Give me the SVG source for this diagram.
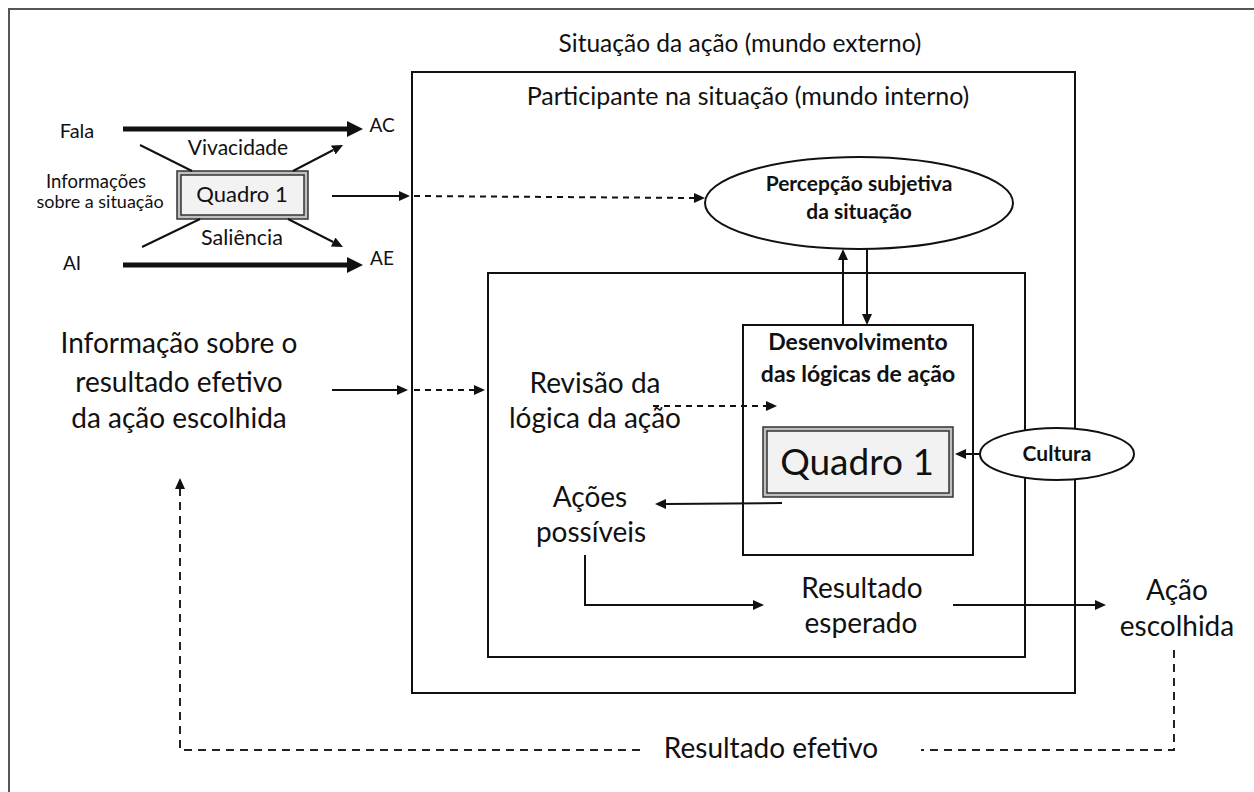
<svg xmlns="http://www.w3.org/2000/svg" width="1254" height="792" viewBox="0 0 1254 792">
<style>
text{font-family:"Lato","Open Sans","DejaVu Sans",sans-serif;fill:#111;text-anchor:middle}
.b{font-weight:bold}
.box{fill:none;stroke:#111;stroke-width:2}
.ln{fill:none;stroke:#111;stroke-width:2}
.thick{fill:none;stroke:#111;stroke-width:5}
.dash{fill:none;stroke:#111;stroke-width:2;stroke-dasharray:6 5}
.dash2{fill:none;stroke:#222;stroke-width:2;stroke-dasharray:8 6}
.qo{fill:#bfbfbf;stroke:#333;stroke-width:1.5}
.qi{fill:#f2f2f2;stroke:#333;stroke-width:1.5}
.big{font-size:28px}
</style>
<defs>
<marker id="ah" markerUnits="userSpaceOnUse" markerWidth="11" markerHeight="10" refX="0" refY="5" orient="auto"><path d="M0,0 L11,5 L0,10 z" fill="#111"/></marker>
<marker id="ahT" markerUnits="userSpaceOnUse" markerWidth="16" markerHeight="16" refX="0" refY="8" orient="auto"><path d="M0,0 L16,8 L0,16 z" fill="#111"/></marker>
</defs>
<rect x="9" y="9" width="1300" height="850" fill="#fff" stroke="#555" stroke-width="2"/>

<g id="external">
<text x="740" y="52" font-size="24.5">Situação da ação (mundo externo)</text>
<rect class="box" x="412" y="72" width="663" height="621"/>
</g>
<g id="internal">
<text x="748" y="105" font-size="25">Participante na situação (mundo interno)</text>
<rect class="box" x="488" y="273" width="537" height="384"/>
</g>

<g id="left-inputs">
<text x="77" y="138" font-size="20">Fala</text>
<text x="382" y="132" font-size="19">AC</text>
<text x="238" y="155" font-size="21">Vivacidade</text>
<text x="96" y="188" font-size="18.5">Informações</text>
<text x="100" y="208" font-size="18">sobre a situação</text>
<text x="242" y="245" font-size="21.5">Saliência</text>
<text x="72" y="270" font-size="19">AI</text>
<text x="382" y="265" font-size="19">AE</text>
</g>
<g id="quadro-small">
<rect class="qo" x="177" y="171" width="131" height="48"/>
<rect class="qi" x="181" y="175" width="123" height="40"/>
<text x="242" y="202" font-size="22">Quadro 1</text>
</g>

<g id="percepcao">
<ellipse cx="859" cy="203" rx="154" ry="46" fill="#fff" stroke="#111" stroke-width="2"/>
<text class="b" x="859" y="191" font-size="21">Percepção subjetiva</text>
<text class="b" x="859" y="219" font-size="21">da situação</text>
</g>

<g id="informacao">
<text class="big" x="179" y="353">Informação sobre o</text>
<text class="big" x="179" y="392">resultado efetivo</text>
<text class="big" x="179" y="428">da ação escolhida</text>
</g>

<g id="revisao">
<text class="big" x="595" y="393">Revisão da</text>
<text class="big" x="595" y="428">lógica da ação</text>
</g>

<g id="desenvolvimento">
<rect class="box" x="743" y="325" width="230" height="230"/>
<text class="b" x="858" y="350" font-size="23">Desenvolvimento</text>
<text class="b" x="858" y="382" font-size="23">das lógicas de ação</text>
</g>
<g id="quadro-big">
<rect class="qo" x="763" y="427" width="190" height="70"/>
<rect class="qi" x="767" y="431" width="182" height="62"/>
<text x="857" y="475" font-size="37">Quadro 1</text>
</g>

<g id="cultura">
<ellipse cx="1057" cy="454" rx="77" ry="26" fill="#fff" stroke="#111" stroke-width="2"/>
<text class="b" x="1057" y="461" font-size="21">Cultura</text>
</g>

<g id="acoes">
<text class="big" x="590" y="507">Ações</text>
<text class="big" x="591" y="542">possíveis</text>
</g>
<g id="resultado-esperado">
<text class="big" x="862" y="598">Resultado</text>
<text class="big" x="861" y="633">esperado</text>
</g>
<g id="acao-escolhida">
<text class="big" x="1177" y="600">Ação</text>
<text class="big" x="1177" y="636">escolhida</text>
</g>
<g id="resultado-efetivo">
<text class="big" x="771" y="758">Resultado efetivo</text>
</g>

<g id="connectors">
<path class="thick" d="M123,129 H347" marker-end="url(#ahT)"/>
<path class="thick" d="M123,265 H347" marker-end="url(#ahT)"/>
<path class="ln" d="M140,145 L192,171"/>
<path class="ln" d="M293,171 L333.3,150" marker-end="url(#ah)"/>
<path class="ln" d="M142,247 L200,219"/>
<path class="ln" d="M288,219 L333.2,242" marker-end="url(#ah)"/>
<path class="ln" d="M332,196 H399" marker-end="url(#ah)"/>
<path class="dash" d="M414,196 L694,198" marker-end="url(#ah)"/>
<path class="ln" d="M843,325 V260" marker-end="url(#ah)"/>
<path class="ln" d="M867,249 V314" marker-end="url(#ah)"/>
<path class="ln" d="M332,390 H397" marker-end="url(#ah)"/>
<path class="dash" d="M414,390 H474" marker-end="url(#ah)"/>
<path class="dash" d="M653,406 H766" marker-end="url(#ah)"/>
<path class="ln" d="M981,454 H966" marker-end="url(#ah)"/>
<path class="ln" d="M782,503 L666,504" marker-end="url(#ah)"/>
<path class="ln" d="M585,555 V605 H753" marker-end="url(#ah)"/>
<path class="ln" d="M953,605 H1095" marker-end="url(#ah)"/>
<path class="dash2" d="M1174,650 V750 H921"/>
<path class="dash2" d="M640,750 H180 V489" marker-end="url(#ah)"/>
</g>
</svg>
